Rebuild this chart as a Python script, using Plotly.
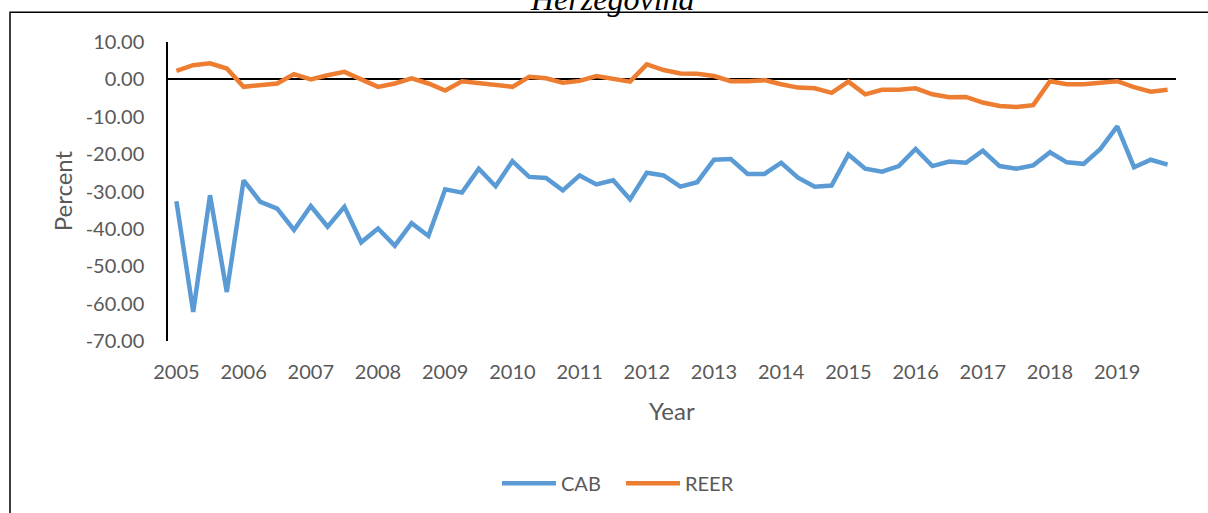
import plotly.graph_objects as go

years = [str(y) for y in range(2005, 2020)]
quarters = list(range(60))

cab = [-32.6, -62.2, -31.0, -56.9, -27.0, -32.8, -34.6, -40.3, -33.9, -39.4,
       -34.1, -43.6, -39.9, -44.5, -38.5, -41.9, -29.4, -30.3, -23.9, -28.6,
       -21.9, -26.1, -26.4, -29.7, -25.7, -28.1, -27.0, -32.1, -25.0, -25.7,
       -28.7, -27.5, -21.5, -21.3, -25.3, -25.3, -22.3, -26.3, -28.7, -28.4,
       -20.1, -23.9, -24.7, -23.2, -18.6, -23.2, -22.0, -22.3, -19.1, -23.2,
       -23.9, -23.0, -19.5, -22.2, -22.6, -18.6, -12.6, -23.5, -21.5, -22.8]

reer = [2.3, 3.8, 4.3, 2.9, -2.0, -1.5, -1.1, 1.4, 0.0, 1.1,
        2.0, 0.0, -2.0, -1.1, 0.3, -1.1, -3.0, -0.5, -0.9, -1.6,
        -2.0, 0.7, 0.3, -0.9, -0.4, 0.9, 0.2, -0.6, 4.0, 2.5,
        1.6, 1.5, 0.9, -0.5, -0.5, -0.2, -1.3, -2.2, -2.4, -3.6,
        -0.6, -4.0, -2.8, -2.8, -2.4, -4.0, -4.8, -4.7, -6.2, -7.1,
        -7.4, -6.9, -0.5, -1.3, -1.3, -0.8, -0.5, -2.1, -3.3, -2.8]

yticks = [10, 0, -10, -20, -30, -40, -50, -60, -70]

FONT = "Lato"
GREY = "#595959"

fig = go.Figure()
fig.add_trace(go.Scatter(x=quarters, y=cab, mode="lines", name="CAB", legend="legend",
                         line=dict(color="#5B9BD5", width=4.5)))
fig.add_trace(go.Scatter(x=quarters, y=reer, mode="lines", name="REER", legend="legend2",
                         line=dict(color="#ED7D31", width=4.5)))

L, R, T, B = 168, 32, 42, 170.5
W, H = 1208, 513
pw = W - L - R
ph = H - T - B

def px_x(p):
    return (p - L) / pw

def px_y(p):
    return (H - B - p) / ph

legend_common = dict(orientation="h", xanchor="left", yanchor="middle",
                     font=dict(family=FONT, size=20, color=GREY), itemwidth=54,
                     bgcolor="rgba(0,0,0,0)", borderwidth=0)

fig.update_layout(
    width=W, height=H,
    margin=dict(l=L, r=R, t=T, b=B, pad=0),
    paper_bgcolor="white", plot_bgcolor="white",
    font=dict(family=FONT, size=20, color=GREY),
    showlegend=True,
    legend=dict(x=px_x(497), y=px_y(484), **legend_common),
    legend2=dict(x=px_x(621), y=px_y(484), **legend_common),
    xaxis=dict(range=[-0.5, 59.5], tickmode="array",
               tickvals=[i * 4 for i in range(15)], ticktext=years,
               showgrid=False, zeroline=False, showline=False, ticks="",
               ticklabelstandoff=17, tickfont=dict(family=FONT, size=20, color=GREY)),
    yaxis=dict(range=[-70, 10], tickmode="array", tickvals=yticks,
               ticktext=[f"{v:.2f}" for v in yticks],
               showgrid=False, zeroline=True, zerolinecolor="black", zerolinewidth=1.5,
               showline=True, linecolor="black", linewidth=1.5, ticks="",
               ticklabelstandoff=18, tickfont=dict(family=FONT, size=20, color=GREY)),
    annotations=[
        dict(text="Percent", xref="paper", yref="paper", x=px_x(62), y=px_y(192),
             xanchor="center", yanchor="middle", textangle=-90, showarrow=False,
             font=dict(family=FONT, size=24, color=GREY)),
        dict(text="Year", xref="paper", yref="paper", x=px_x(672), y=px_y(412),
             xanchor="center", yanchor="middle", showarrow=False,
             font=dict(family=FONT, size=24, color=GREY)),
        dict(text="<i>Herzegovina</i>", xref="paper", yref="paper", x=px_x(612), y=px_y(19),
             xanchor="center", yanchor="bottom", showarrow=False,
             font=dict(family="Liberation Serif", size=32, color="black")),
    ],
    shapes=[
        dict(type="rect", xref="paper", yref="paper",
             x0=px_x(10), x1=px_x(1220), y0=px_y(530), y1=px_y(12),
             line=dict(color="black", width=1.5), fillcolor="rgba(0,0,0,0)", layer="below"),
    ],
)

fig.write_html("out.html", config={"displayModeBar": False},
               post_script="document.body.style.margin='0';document.body.style.overflow='hidden';")
